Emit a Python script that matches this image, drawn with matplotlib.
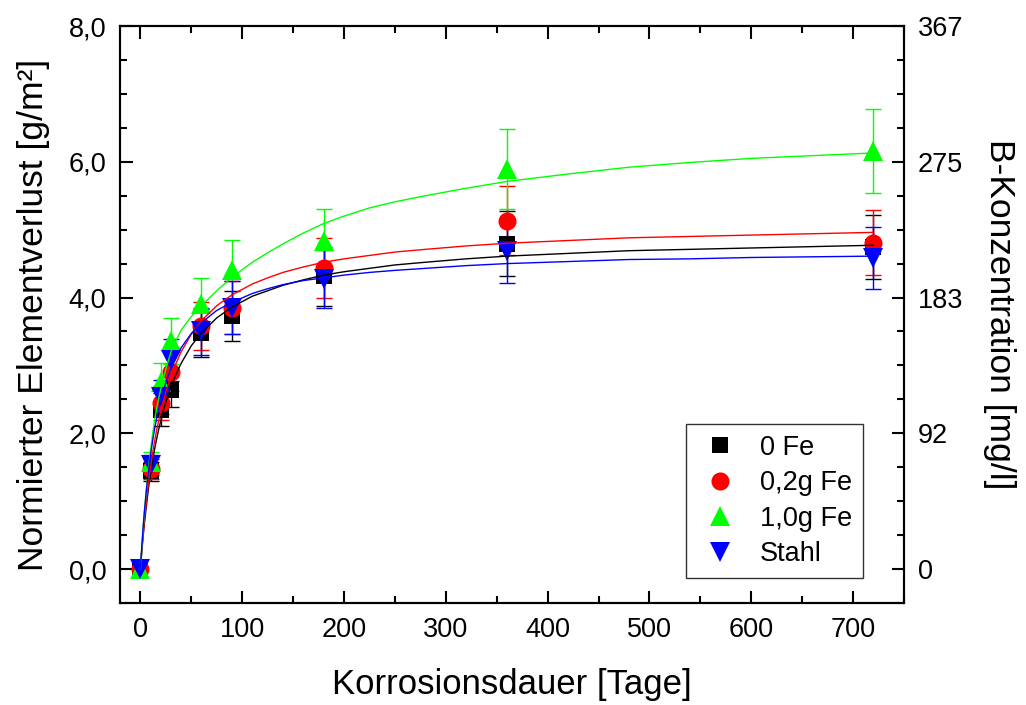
import matplotlib
matplotlib.use("Agg")
import matplotlib.pyplot as plt
from matplotlib.ticker import MultipleLocator, FixedLocator

plt.rcParams['font.family'] = ['Liberation Sans', 'DejaVu Sans']

# measured data (days, g/m^2)
days = [0, 10, 20, 30, 60, 90, 180, 360, 720]
fe0 = [0, 1.44, 2.35, 2.64, 3.48, 3.73, 4.31, 4.79, 4.74]
fe02 = [0, 1.47, 2.45, 2.91, 3.58, 3.85, 4.44, 5.13, 4.81]
fe10 = [0, 1.57, 2.75, 3.36, 3.90, 4.41, 4.83, 5.89, 6.16]
stahl = [0, 1.53, 2.54, 3.08, 3.50, 3.85, 4.27, 4.68, 4.58]

err0 = [0, 0.14, 0.24, 0.26, 0.35, 0.37, 0.43, 0.48, 0.47]
err02 = [0, 0.15, 0.25, 0.29, 0.36, 0.39, 0.44, 0.51, 0.48]
err10 = [0, 0.16, 0.28, 0.34, 0.39, 0.44, 0.48, 0.59, 0.62]
errst = [0, 0.15, 0.25, 0.31, 0.35, 0.39, 0.43, 0.47, 0.46]

# fitted curves
fit_days = [0, 1, 2, 3, 4, 6, 8, 10, 12, 14, 16, 18, 22, 26, 30, 35, 40,
            50, 60, 75, 90, 110, 125, 140, 160, 180, 200, 225, 250, 280,
            320, 360, 420, 480, 540, 600, 660, 720]
fit0 = [0, 0.19, 0.37, 0.53, 0.68, 0.95, 1.20, 1.41, 1.60, 1.77, 1.92, 2.06,
        2.31, 2.51, 2.69, 2.87, 3.03, 3.29, 3.48, 3.70, 3.86, 4.02, 4.10,
        4.18, 4.26, 4.33, 4.38, 4.43, 4.48, 4.52, 4.57, 4.61, 4.65, 4.69,
        4.71, 4.73, 4.75, 4.77]
fit02 = [0, 0.21, 0.39, 0.57, 0.73, 1.02, 1.28, 1.51, 1.71, 1.89, 2.05, 2.19,
         2.45, 2.66, 2.84, 3.03, 3.20, 3.46, 3.66, 3.88, 4.04, 4.20, 4.29,
         4.37, 4.45, 4.52, 4.57, 4.62, 4.67, 4.71, 4.76, 4.80, 4.84, 4.88,
         4.90, 4.92, 4.94, 4.96]
fit10 = [0, 0.23, 0.45, 0.66, 0.85, 1.20, 1.50, 1.75, 1.99, 2.20, 2.37, 2.52,
         2.78, 3.00, 3.20, 3.37, 3.52, 3.72, 3.88, 4.10, 4.30, 4.52, 4.66,
         4.79, 4.95, 5.09, 5.20, 5.32, 5.41, 5.50, 5.61, 5.71, 5.82, 5.92,
         5.99, 6.05, 6.09, 6.13]
fitst = [0, 0.25, 0.47, 0.68, 0.86, 1.18, 1.45, 1.69, 1.89, 2.07, 2.22, 2.36,
         2.60, 2.79, 2.95, 3.12, 3.26, 3.47, 3.63, 3.81, 3.93, 4.06, 4.13,
         4.19, 4.25, 4.29, 4.33, 4.37, 4.40, 4.43, 4.47, 4.50, 4.53, 4.56,
         4.57, 4.59, 4.60, 4.61]

labels = ['0 Fe', '0,2g Fe', '1,0g Fe', 'Stahl']
colors = ['#000000', '#ff0000', '#00ff00', '#0000ff']
markers = ['s', 'o', '^', 'v']
msizes = [11.5, 13, 15, 15]

yticks = [0, 2, 4, 6, 8]
ylabels_left = ['0,0', '2,0', '4,0', '6,0', '8,0']
ylabels_right = ['0', '92', '183', '275', '367']

fig = plt.figure(figsize=(10.26, 7.05), dpi=100)
ax = fig.add_axes([0.117, 0.1447, 0.7641, 0.8184])

series = [fe0, fe02, fe10, stahl]
errs = [err0, err02, err10, errst]
fits = [fit0, fit02, fit10, fitst]

for y, e, c in zip(series, errs, colors):
    ax.errorbar(days, y, yerr=e, fmt='none', ecolor=c, elinewidth=1,
                capsize=6, capthick=1, zorder=2)
for y, c, m, ms, lab in zip(series, colors, markers, msizes, labels):
    ax.plot(days, y, ls='none', marker=m, ms=ms, color=c, mew=0,
            label=lab, zorder=3)
for f, c in zip(fits, colors):
    ax.plot(fit_days, f, color=c, lw=1, zorder=4)

ax.set_xlim(-20, 750)
ax.set_ylim(-0.5, 8)
ax.xaxis.set_major_locator(MultipleLocator(100))
ax.xaxis.set_minor_locator(MultipleLocator(50))
ax.yaxis.set_major_locator(FixedLocator(yticks))
ax.set_yticklabels(ylabels_left)
ax.yaxis.set_minor_locator(MultipleLocator(0.5))

for s in ax.spines.values():
    s.set_linewidth(1.5)
ax.tick_params(which='both', direction='in', top=True, width=1.5,
               labelsize=19.5)
ax.tick_params(which='major', length=9)
ax.tick_params(which='minor', length=5)
ax.tick_params(axis='x', pad=10)
ax.tick_params(axis='y', pad=10)

ax.set_xlabel('Korrosionsdauer [Tage]', fontsize=25, labelpad=18)
ax.set_ylabel('Normierter Elementverlust [g/m²]', fontsize=25.5, labelpad=13)

ax2 = ax.twinx()
ax2.set_ylim(ax.get_ylim())
ax2.yaxis.set_major_locator(FixedLocator(yticks))
ax2.set_yticklabels(ylabels_right)
ax2.yaxis.set_minor_locator(MultipleLocator(0.5))
ax2.tick_params(which='both', direction='in', width=1.5, labelsize=19.5,
                pad=10)
ax2.tick_params(which='major', length=9)
ax2.tick_params(which='minor', length=5)
for s in ax2.spines.values():
    s.set_linewidth(1.5)
ax2.set_ylabel('B-Konzentration [mg/l]', fontsize=25.5, rotation=270,
               labelpad=38)

leg = ax.legend(loc='lower right', bbox_to_anchor=(0.948, 0.043),
                fontsize=19.5, frameon=True, fancybox=False,
                edgecolor='black', handlelength=1.7, handletextpad=0.65,
                labelspacing=0.35, borderpad=0.4, borderaxespad=0)
leg.get_frame().set_linewidth(1)

fig.savefig('out.png', dpi=100)
